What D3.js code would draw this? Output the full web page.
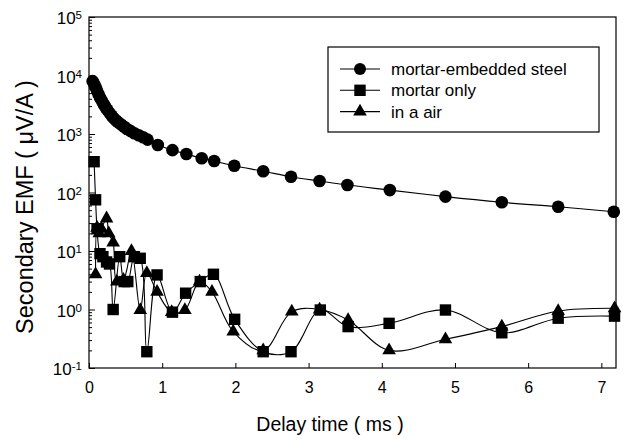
<!DOCTYPE html>
<html>
<head>
<meta charset="utf-8">
<script src="https://cdn.jsdelivr.net/npm/d3@7"></script>
<style>
  html, body { margin: 0; padding: 0; background: #fff; }
  svg { display: block; font-family: "Liberation Sans", Arial, Helvetica, sans-serif; }
</style>
</head>
<body>
<svg id="chart" width="624" height="439"></svg>
<script>
// ---- data ----
const seriesNames = ["mortar-embedded steel", "mortar only", "in a air"];

const steelX = [0.05,0.07,0.09,0.11,0.13,0.15,0.17,0.19,0.21,0.23,0.25,0.28,0.31,0.34,0.37,0.40,0.44,0.48,0.52,0.57,0.62,0.68,0.74,0.80,0.94,1.14,1.33,1.54,1.71,1.985,2.38,2.76,3.15,3.53,4.11,4.87,5.64,6.41,7.17];
const steelY = [8000,7200,6300,5500,4800,4200,3800,3400,3100,2800,2600,2300,2050,1850,1700,1580,1450,1330,1220,1120,1030,950,880,800,650,530,455,385,345,287,231,186,157,134,110,85,68,57,47];

const mortarX = [0.07,0.09,0.11,0.15,0.19,0.24,0.28,0.33,0.42,0.48,0.53,0.62,0.70,0.79,0.93,1.14,1.32,1.52,1.70,1.99,2.38,2.76,3.16,3.54,4.10,4.87,5.64,6.41,7.18];
const mortarY = [336,75,24,9,8,6.5,6,1.0,8,3,3,8,7.5,0.19,3.9,0.9,1.9,3.0,4.0,0.68,0.19,0.19,0.98,0.51,0.58,0.98,0.40,0.71,0.77];

const airX = [0.09,0.11,0.14,0.17,0.24,0.27,0.33,0.38,0.47,0.58,0.70,0.79,0.93,1.13,1.31,1.51,1.68,1.97,2.38,2.77,3.15,3.54,4.10,4.87,5.64,6.41,7.18];
const airY = [4.0,25,20,24,36,20,14,3,3.2,10,0.98,4.2,2.0,0.9,0.98,3.0,2.0,0.42,0.2,0.92,1.0,0.66,0.2,0.31,0.51,0.94,1.05];

const xTicks = [0,1,2,3,4,5,6,7];
const yExponents = [-1,0,1,2,3,4,5];

// ---- layout ----
const svg = d3.select("#chart");
const L = 89, R = 616, T = 17, B = 368;
const x = d3.scaleLinear().domain([0, 7.2]).range([L, R]);
const y = d3.scaleLog().domain([0.1, 1e5]).range([B, T]);

// frame
svg.append("rect").attr("x", L).attr("y", T).attr("width", R - L).attr("height", B - T)
  .attr("fill", "none").attr("stroke", "#000").attr("stroke-width", 1.2);

// x axis
const xAxis = svg.append("g").attr("transform", `translate(0,${B})`)
  .call(d3.axisBottom(x).tickValues(xTicks).tickFormat(d3.format("d"))
    .tickSizeInner(-5).tickSizeOuter(0).tickPadding(14));
xAxis.select(".domain").remove();
xAxis.selectAll("text").attr("font-size", 16).attr("fill", "#000").attr("font-family", null);

// y axis major
const yAxis = svg.append("g").attr("transform", `translate(${L},0)`)
  .call(d3.axisLeft(y).tickValues(yExponents.map(e => Math.pow(10, e)))
    .tickSizeInner(-6).tickSizeOuter(0).tickPadding(8).tickFormat(""));
yAxis.select(".domain").remove();
yAxis.selectAll(".tick").each(function(d) {
  const e = Math.round(Math.log10(d));
  const t = d3.select(this).append("text")
    .attr("x", -7).attr("dy", "0.4em").attr("text-anchor", "end")
    .attr("font-size", 17).attr("fill", "#000");
  t.append("tspan").text("10");
  t.append("tspan").attr("dy", "-0.45em").attr("font-size", 11.5).text(String(e));
});

// y minor ticks
const minors = [];
for (let e = -1; e < 5; e++) for (let m = 2; m <= 9; m++) minors.push(m * Math.pow(10, e));
const yMinor = svg.append("g").attr("transform", `translate(${L},0)`)
  .call(d3.axisLeft(y).tickValues(minors).tickSizeInner(-3).tickSizeOuter(0).tickFormat(""));
yMinor.select(".domain").remove();

// titles
svg.append("text").attr("x", 330).attr("y", 431).attr("text-anchor", "middle")
  .attr("font-size", 19.5).text("Delay time ( ms )");
svg.append("text").attr("transform", `translate(33,207) rotate(-90)`)
  .attr("text-anchor", "middle").attr("font-size", 23.5).text("Secondary EMF ( \u03BCV/A )");

// series
const line = d3.line().x(d => x(d[0])).y(d => y(d[1])).curve(d3.curveCatmullRom.alpha(0.5));
const zip = (xs, ys) => xs.map((v, i) => [v, ys[i]]);
const steel = zip(steelX, steelY), mortar = zip(mortarX, mortarY), air = zip(airX, airY);

const sq = d3.symbol().type(d3.symbolSquare).size(130);
const tri = d3.symbol().type(d3.symbolTriangle).size(80);

function drawSeries(data, kind) {
  const g = svg.append("g");
  g.append("path").attr("d", line(data)).attr("fill", "none").attr("stroke", "#000").attr("stroke-width", 1.1);
  const m = g.selectAll(".m").data(data).enter();
  if (kind === "circle") {
    m.append("circle").attr("cx", d => x(d[0])).attr("cy", d => y(d[1])).attr("r", 6.3).attr("fill", "#000");
  } else {
    m.append("path").attr("d", kind === "square" ? sq() : tri())
      .attr("transform", d => `translate(${x(d[0])},${y(d[1])})`).attr("fill", "#000");
  }
}
drawSeries(air, "triangle");
drawSeries(mortar, "square");
drawSeries(steel, "circle");

// legend
const lg = svg.append("g");
lg.append("rect").attr("x", 328).attr("y", 47).attr("width", 271).attr("height", 85)
  .attr("fill", "#fff").attr("stroke", "#000").attr("stroke-width", 1.2);
const kinds = ["circle", "square", "triangle"];
seriesNames.forEach((name, i) => {
  const cy = 69 + i * 21.3;
  lg.append("line").attr("x1", 340).attr("x2", 380).attr("y1", cy).attr("y2", cy).attr("stroke", "#000").attr("stroke-width", 1.1);
  if (kinds[i] === "circle") lg.append("circle").attr("cx", 360).attr("cy", cy).attr("r", 6).attr("fill", "#000");
  else lg.append("path").attr("d", kinds[i] === "square" ? sq() : tri()).attr("transform", `translate(360,${cy})`).attr("fill", "#000");
  lg.append("text").attr("x", 391).attr("y", cy).attr("dy", "0.35em").attr("font-size", 17).text(name);
});
</script>
</body>
</html>
